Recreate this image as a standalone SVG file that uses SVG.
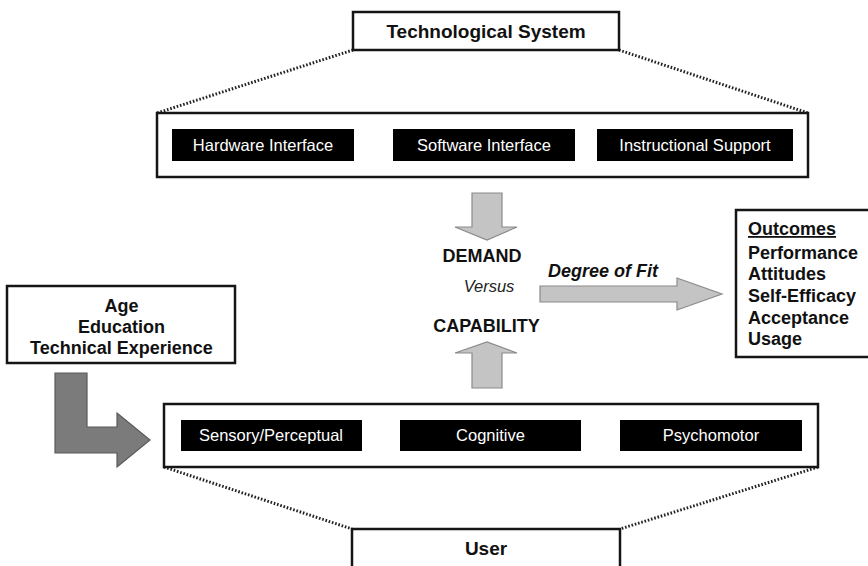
<svg xmlns="http://www.w3.org/2000/svg" width="868" height="566" viewBox="0 0 868 566">
  <style>
    .frame { fill: #ffffff; stroke: #151515; stroke-width: 2.5; }
    .chip { fill: #000000; }
    .chipText { fill: #ffffff; font-family: "Liberation Sans", Arial, sans-serif; font-size: 16.5px; text-anchor: middle; }
    .title { fill: #111111; font-family: "Liberation Sans", Arial, sans-serif; font-weight: bold; font-size: 19px; text-anchor: middle; }
    .label { fill: #111111; font-family: "Liberation Sans", Arial, sans-serif; font-weight: bold; font-size: 18px; }
    .ital { fill: #222222; font-family: "Liberation Sans", Arial, sans-serif; font-style: italic; font-size: 16.5px; }
    .dots { fill: none; stroke: #222222; stroke-width: 3; stroke-dasharray: 1.6 1.8; }
    .lightArrow { fill: #c4c4c4; stroke: #8a8a8a; stroke-width: 1.2; stroke-linejoin: miter; }
    .darkArrow { fill: #7b7b7b; stroke: #5a5a5a; stroke-width: 1.2; }
  </style>

  <rect width="868" height="566" fill="#ffffff"/>

  <!-- dotted expansion lines -->
  <g id="connectors">
    <line class="dots" x1="353" y1="50" x2="157" y2="113"/>
    <line class="dots" x1="619" y1="50" x2="808" y2="113"/>
    <line class="dots" x1="164" y1="467" x2="352" y2="529"/>
    <line class="dots" x1="818" y1="467" x2="620" y2="529"/>

    <!-- demand arrow (down) -->
    <path class="lightArrow" d="M472,193 H502 V227 H517 L487,240 L455,227 H472 Z"/>
    <!-- capability arrow (up) -->
    <path class="lightArrow" d="M472,388 H502 V353 H517 L487,342 L455,353 H472 Z"/>
    <!-- degree of fit arrow -->
    <path class="lightArrow" d="M540,286 H677 V278 L722,294 L677,310 V302 H540 Z"/>
    <!-- user characteristics arrow (L-shaped) -->
    <path class="darkArrow" d="M55,373 H87 V427 H117 V413 L150,440 L117,467 V453 H55 Z"/>
  </g>

  <g id="tech-system">
    <rect class="frame" x="353" y="12" width="266" height="38"/>
    <text class="title" x="486" y="38">Technological System</text>
  </g>

  <g id="tech-components">
    <rect class="frame" x="157" y="113" width="651" height="64"/>
    <rect class="chip" x="172" y="129" width="182" height="32"/>
    <text class="chipText" x="263" y="150.5">Hardware Interface</text>
    <rect class="chip" x="393" y="129" width="182" height="32"/>
    <text class="chipText" x="484" y="150.5">Software Interface</text>
    <rect class="chip" x="597" y="129" width="196" height="32"/>
    <text class="chipText" x="695" y="150.5">Instructional Support</text>
  </g>

  <g id="fit">
    <text class="label" x="482" y="262" text-anchor="middle">DEMAND</text>
    <text class="ital" x="489" y="292" text-anchor="middle">Versus</text>
    <text class="label" x="486.5" y="332" text-anchor="middle">CAPABILITY</text>
    <text class="label" x="548" y="277" font-style="italic">Degree of Fit</text>
  </g>

  <g id="outcomes">
    <rect class="frame" x="736" y="210" width="140" height="147"/>
    <text class="label" x="748" y="235" text-decoration="underline">Outcomes</text>
    <text class="label" x="748" y="259">Performance</text>
    <text class="label" x="748" y="280">Attitudes</text>
    <text class="label" x="748" y="302">Self-Efficacy</text>
    <text class="label" x="748" y="324">Acceptance</text>
    <text class="label" x="748" y="345">Usage</text>
  </g>

  <g id="user-factors">
    <rect class="frame" x="7" y="286" width="228" height="77"/>
    <text class="label" x="121.5" y="312" text-anchor="middle">Age</text>
    <text class="label" x="121.5" y="333" text-anchor="middle">Education</text>
    <text class="label" x="121.5" y="354" text-anchor="middle">Technical Experience</text>
  </g>

  <g id="user-components">
    <rect class="frame" x="164" y="404" width="654" height="63"/>
    <rect class="chip" x="181" y="420" width="181" height="31"/>
    <text class="chipText" x="271" y="441">Sensory/Perceptual</text>
    <rect class="chip" x="400" y="420" width="181" height="31"/>
    <text class="chipText" x="490.5" y="441">Cognitive</text>
    <rect class="chip" x="620" y="420" width="182" height="31"/>
    <text class="chipText" x="711" y="441">Psychomotor</text>
  </g>

  <g id="user">
    <rect class="frame" x="352" y="529" width="268" height="45"/>
    <text class="title" x="486" y="555">User</text>
  </g>
</svg>
